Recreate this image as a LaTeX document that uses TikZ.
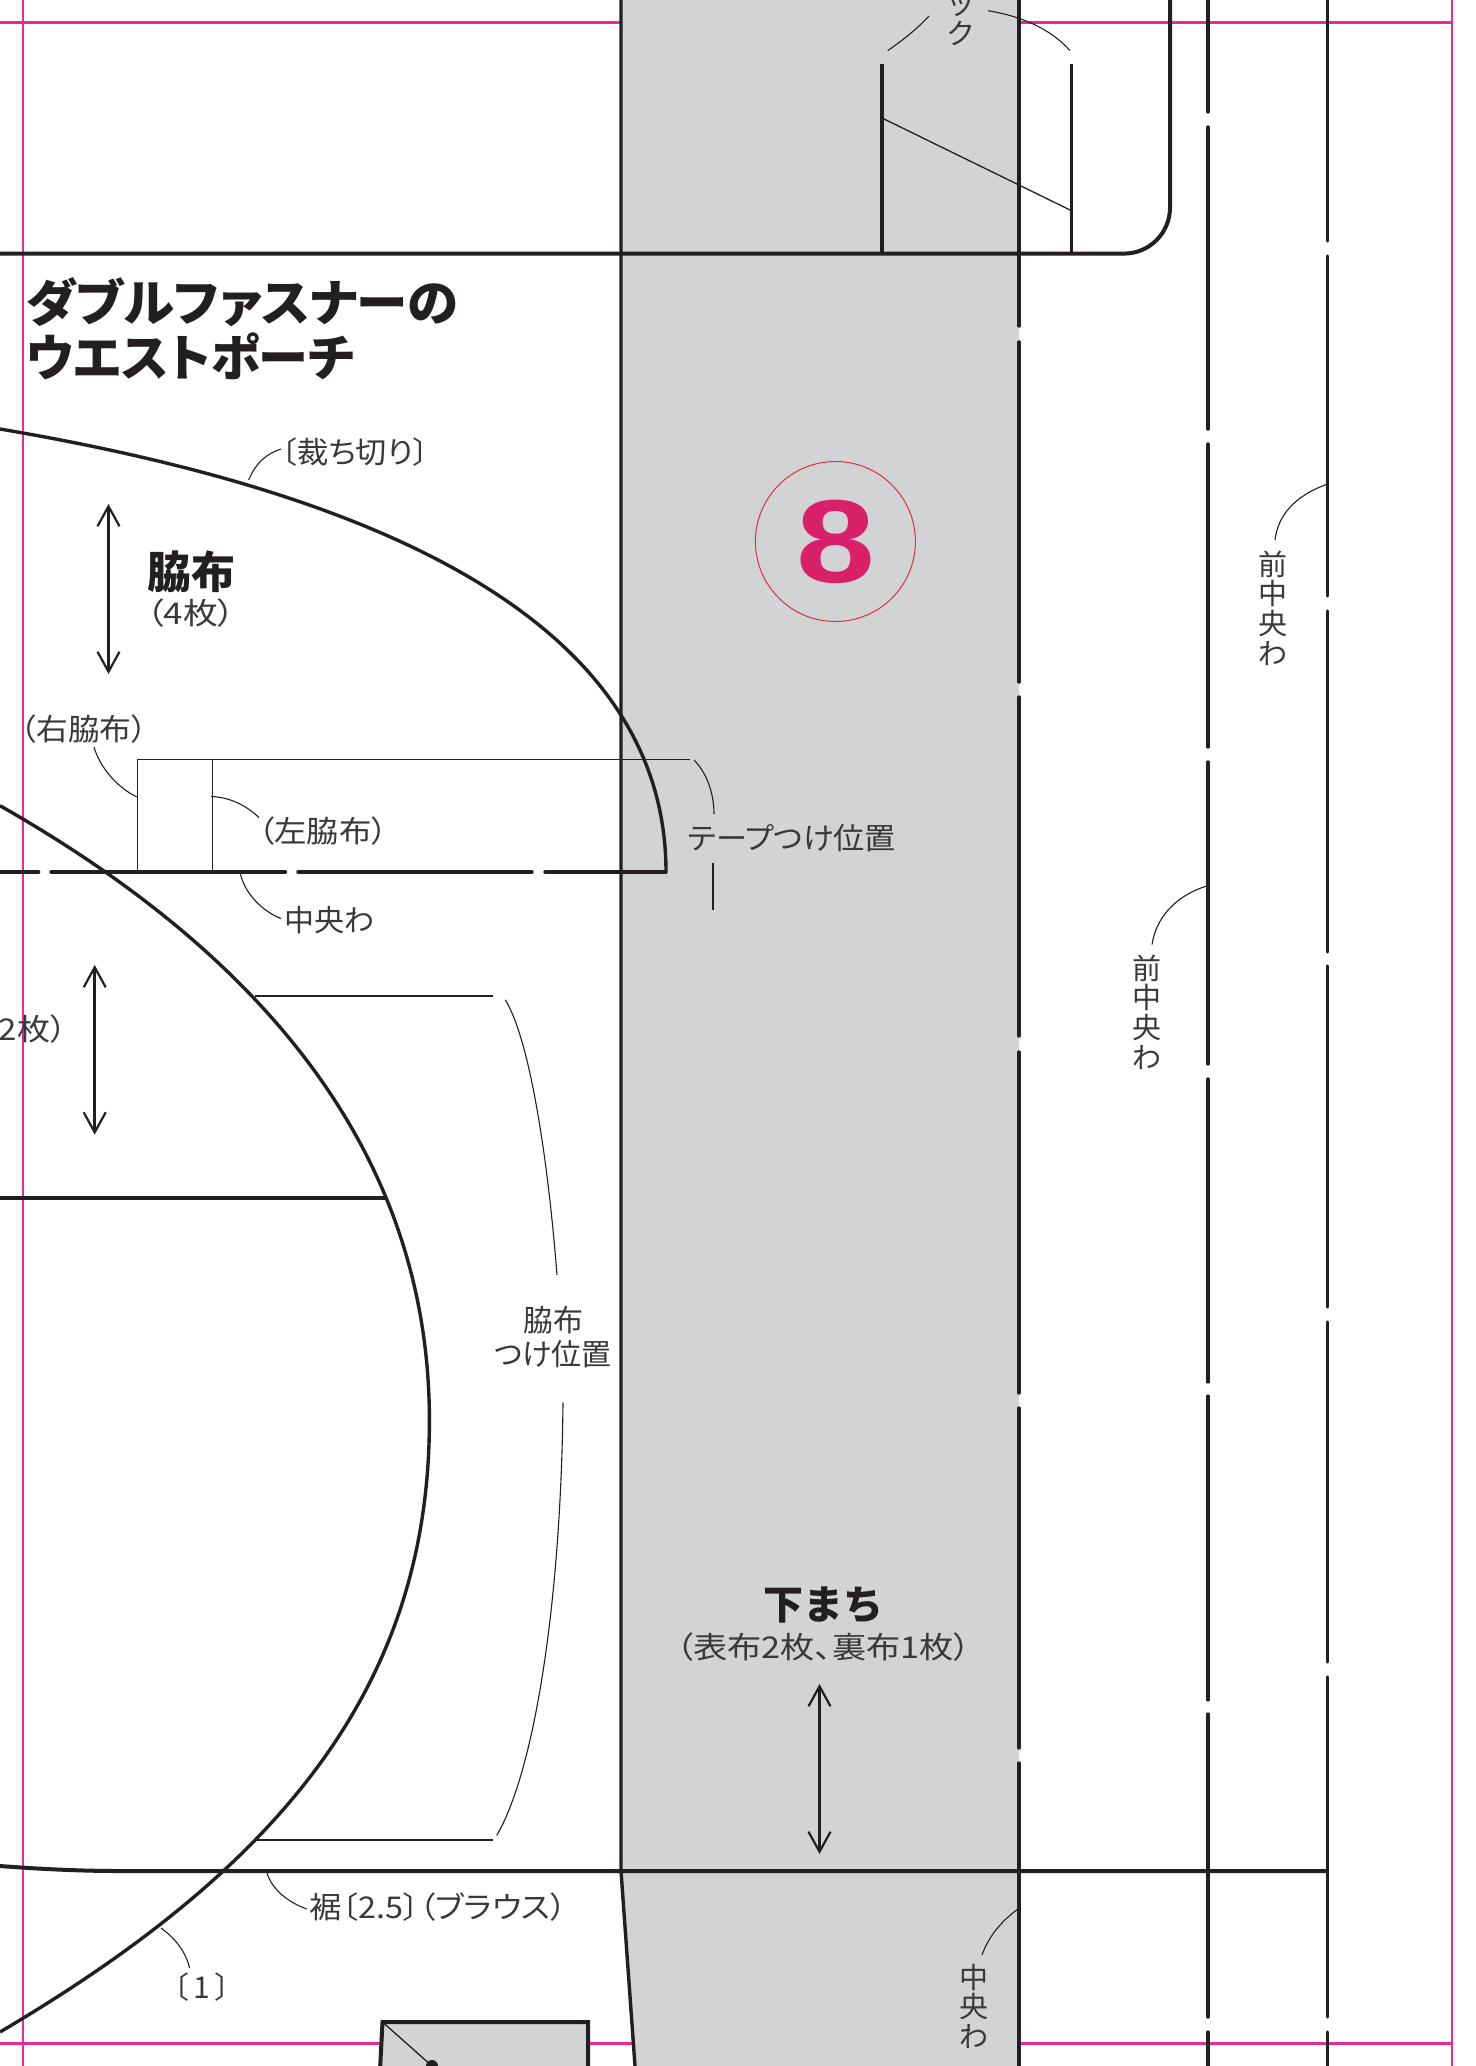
\documentclass[tikz,border=0pt]{standalone}
\usepackage{fontspec}
\setmainfont{Noto Sans CJK JP}
\newfontfamily\palt[RawFeature=+palt]{Noto Sans CJK JP}
\newfontfamily\digitfont{Liberation Sans}
\usetikzlibrary{arrows.meta}
\definecolor{ink}{HTML}{231F20}
\definecolor{txt}{HTML}{3A3839}
\definecolor{band}{HTML}{D1D3D4}
\definecolor{trimline}{HTML}{EC2A93}
\definecolor{sheetred}{HTML}{E0303A}
\definecolor{sheetpink}{HTML}{D9206A}
\tikzset{
	seam/.style={draw=ink,line width=3.4pt},
	dashseam/.style={draw=ink,line width=3.4pt,line cap=round},
	hem/.style={draw=ink,line width=4pt},
	thinline/.style={draw=ink,line width=1.3pt},
	leader/.style={draw=ink,line width=1.1pt},
	grain/.style={draw=ink,line width=3pt,{Straight Barb[length=20pt,width=22pt,line width=2.2pt]}-{Straight Barb[length=20pt,width=22pt,line width=2.2pt]}},
	lab/.style={text=txt,inner sep=0pt,font=\palt\fontsize{30}{34}\selectfont,align=center},
	head/.style={text=ink,inner sep=0pt,font=\bfseries\fontsize{40}{40}\selectfont},
	title/.style={text=ink,inner sep=0pt,anchor=west,font=\palt\bfseries\fontsize{50}{50}\selectfont},
	vlab/.style={text=txt,inner sep=0pt,align=center,font=\fontsize{29}{29.6}\selectfont}
}
\begin{document}
\begin{tikzpicture}[x=1pt,y=-1pt]
\useasboundingbox (0,0) rectangle (1475,2066);
\draw[trimline,line width=2.4pt] (0,22.5) -- (1452,22.5);
\draw[trimline,line width=2.4pt] (0,2043.5) -- (1452,2043.5);
\draw[trimline,line width=2pt] (22.5,0) -- (22.5,2066);
\draw[trimline,line width=1.6pt] (1452,0) -- (1452,2066);

\fill[band] (621,0) -- (1019,0) -- (1019,2066) -- (635,2066) -- (621,1871) -- cycle;
\filldraw[fill=band,hem] (380,2070) -- (382.5,2022) -- (588,2022) -- (588,2070);
\draw[thinline] (382.5,2022) -- (432,2066);
\fill[ink] (432,2066) circle (6);

\draw[seam] (621,0) -- (621,1871) -- (635,2066);
\draw[hem] (0,253.6) -- (1124,253.6) arc (90:0:46) -- (1170,0);
\draw[hem] (0,1866) .. controls (40,1869) and (80,1871) .. (120,1871) -- (1328,1871);
\draw[seam] (0,1198) -- (385,1198);
\draw[seam] (882,64) -- (882,254);
\draw[seam] (1071.5,64) -- (1071.5,254);
\draw[thinline] (882,118) -- (1071.5,210.7);

\draw[dashseam] (1019,0) -- (1019,326) (1019,342) -- (1019,682) (1019,697) -- (1019,1036) (1019,1052) -- (1019,1393) (1019,1408) -- (1019,1748) (1019,1763) -- (1019,2066);
\draw[dashseam] (1208,0) -- (1208,112) (1208,127) -- (1208,429) (1208,444) -- (1208,747) (1208,762) -- (1208,1064) (1208,1079) -- (1208,1382) (1208,1396) -- (1208,1700) (1208,1714) -- (1208,2017) (1208,2032) -- (1208,2066);
\draw[dashseam] (1327.5,0) -- (1327.5,241) (1327.5,256) -- (1327.5,596) (1327.5,611) -- (1327.5,952) (1327.5,966) -- (1327.5,1307) (1327.5,1322) -- (1327.5,1662) (1327.5,1677) -- (1327.5,2017) (1327.5,2032) -- (1327.5,2066);
\draw[dashseam] (0,872) -- (38.7,872) (51,872) -- (285.5,872) (298,872) -- (532,872) (545,872) -- (666,872);

\draw[seam] (0,429) .. controls (300,480) and (666,590) .. (666,872);
\draw[seam] (0,805.7) .. controls (245,945) and (429.4,1140) .. (429.4,1420.6) .. controls (429.4,1690) and (275,1870) .. (0,2032);

\draw[thinline] (137.3,872) -- (137.3,759.7) -- (690.4,759.7);
\draw[thinline] (212.8,759.7) -- (212.8,872);
\draw[thinline] (255,996) -- (492.6,996);
\draw[thinline] (255,1840) -- (493,1840);

\draw[grain] (108.5,504) -- (108.5,674);
\draw[grain] (94.7,965) -- (94.7,1134.6);
\draw[grain] (819.5,1684) -- (819.5,1854);

\draw[draw=sheetred,line width=1pt] (835.4,541.5) node[text=sheetpink,inner sep=0pt,font=\digitfont\bfseries\fontsize{118}{118}\selectfont] (SheetNo) {\scalebox{1.2}[1]{8}} circle (80);

\draw (26,302) node[title] (TitleA) {\scalebox{1.03}[1]{ダブルファスナーの}};
\draw (26,356) node[title] (TitleB) {ウエストポーチ};
\draw (191,572) node[head,font=\bfseries\fontsize{44}{44}\selectfont] (Side) {脇布};
\draw (191,613) node[lab] (SideCount) {\scalebox{1.16}[1]{（4枚）}};
\draw (355,452) node[lab] (Cut) {\scalebox{1.04}[1]{〔裁ち切り〕}};
\draw (84,729) node[lab] (SideRight) {\scalebox{1.06}[1]{（右脇布）}};
\draw (323,831) node[lab] (SideLeft) {\scalebox{1.08}[1]{（左脇布）}};
\draw (329.4,920) node[lab] (CenterFold) {中央わ};
\draw (792,838) node[lab] (Tape) {\scalebox{1.04}[1]{テープつけ位置}};
\draw (553,1337) node[lab] (SidePos) {脇布\\つけ位置};
\draw (67,1029) node[lab,anchor=east] (Count) {\scalebox{1.1}[1]{2枚）}};
\draw (823.5,1605) node[head] (Gusset) {下まち};
\draw (823.5,1647) node[lab] (GussetCount) {\scalebox{1.14}[1]{（表布2枚、裏布1枚）}};
\draw (309.6,1906.6) node[lab,anchor=west] (Hem) {\scalebox{1.08}[1]{裾〔2.5〕（ブラウス）}};
\draw (201.6,1987) node[lab] (One) {〔\hspace{5pt}1\hspace{5pt}〕};
\draw (1273,608) node[vlab] (FrontA) {前\\中\\央\\わ};
\draw (1147,1012) node[vlab] (FrontB) {前\\中\\央\\わ};
\draw (973.7,2006) node[vlab] (CenterB) {中\\央\\わ};
\draw (960.5,22) node[vlab] (Tuck) {ッ\\ク};

\draw[leader] (248.7,480) .. controls (256,462) and (268,453) .. (281,449);
\draw[leader] (94,747) .. controls (100,768) and (118,788) .. (137,797);
\draw[leader] (211,796.5) .. controls (230,797) and (247,806) .. (259,817.6);
\draw[leader] (240,872) .. controls (244,893) and (262,911) .. (281,918.6);
\draw[leader] (694,760) .. controls (706,772) and (714,792) .. (714,814);
\draw[leader] (713,863) -- (713,910);
\draw[leader] (505.3,999.8) .. controls (530,1040) and (548,1160) .. (557,1275);
\draw[leader] (563,1402.6) .. controls (561,1600) and (535,1770) .. (496.7,1835.5);
\draw[leader] (266.7,1872) .. controls (272,1890) and (288,1902) .. (306.7,1909);
\draw[leader] (161,1928) .. controls (175,1938) and (186,1952) .. (189.5,1968);
\draw[leader] (1326,484.6) .. controls (1295,496) and (1278,515) .. (1275,540);
\draw[leader] (1206.7,886) .. controls (1175,896) and (1156,918) .. (1152,944.6);
\draw[leader] (1018,1909) .. controls (1000,1922) and (988,1938) .. (982,1955);
\draw[leader] (929,16) .. controls (914,32) and (900,42) .. (887.7,50.7);
\draw[leader] (988,10.7) .. controls (1020,16) and (1050,28) .. (1070,50.7);
\end{tikzpicture}
\end{document}
